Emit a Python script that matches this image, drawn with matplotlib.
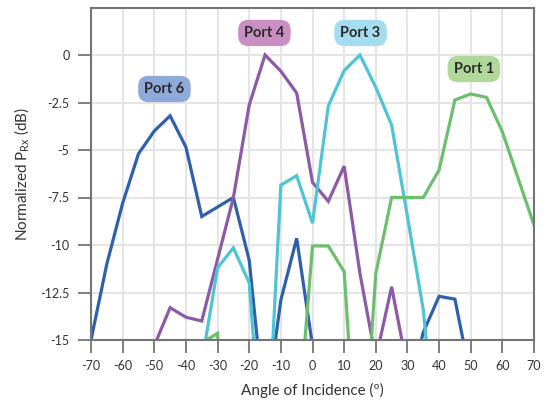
import matplotlib
matplotlib.use("Agg")
import matplotlib.pyplot as plt

plt.rcParams["font.family"] = ["Lato", "DejaVu Sans"]
plt.rcParams["mathtext.fontset"] = "custom"
plt.rcParams["mathtext.rm"] = "Lato"

# angle of incidence, degrees
angles = list(range(-70, 75, 5))

# normalized received power (dB); values below -15 fall off the plot
port6 = [-15.0, -11.0, -7.8, -5.2, -4.0, -3.2, -4.85, -8.5, -8.0, -7.5, -10.8, -19.0, -12.9,
         -9.65, -15.3, -30, -30, -30, -30, -30, -18.0, -14.6, -12.7, -12.85, -17.0, -30, -30, -30, -30]
port4 = [-30, -30, -30, -25.0, -15.3, -13.3, -13.8, -14.0, -10.75, -7.5, -2.63, 0.0, -0.85,
         -2.0, -6.7, -7.7, -5.85, -11.5, -16.0, -12.2, -16.5, -30, -30, -30, -30, -30, -30, -30, -30]
port3 = [-30, -30, -30, -30, -30, -30, -30, -16.2, -11.2, -10.15, -12.0, -23.0, -6.85,
         -6.35, -8.85, -2.68, -0.82, 0.0, -1.7, -3.68, -8.5, -13.4, -22.0, -30, -30, -30, -30, -30, -30]
port1 = [-30, -30, -30, -30, -30, -30, -30, -15.15, -14.65, -30, -30, -30, -30,
         -20.4, -10.05, -10.05, -11.4, -24.0, -11.5, -7.5, -7.5, -7.5, -6.05, -2.37, -2.05, -2.23, -4.04, -6.5, -8.95]

names = ["Port 6", "Port 4", "Port 3", "Port 1"]
line_colors = ["#2f5fad", "#8d5aa8", "#4fc4d4", "#6bbf6f"]
label_colors = ["#8eaad8", "#c98fc0", "#a6dcef", "#b0d89b"]
label_pos = [(-46.8, -1.79), (-15.2, 1.16), (15.2, 1.16), (51.0, -0.74)]

xticks = list(range(-70, 80, 10))
yticks = [0, -2.5, -5, -7.5, -10, -12.5, -15]
ytick_labels = ["0", "-2.5", "-5", "-7.5", "-10", "-12.5", "-15"]

fig = plt.figure(figsize=(5.48, 4.09), dpi=100)
ax = fig.add_axes([91 / 548, 1 - 340 / 409, (534 - 91) / 548, (340 - 7.5) / 409])

for series, color in zip([port6, port4, port3, port1], line_colors):
    ax.plot(angles, series, color=color, lw=2.3, solid_joinstyle="miter", zorder=2)

for name, (lx, ly), fc in zip(names, label_pos, label_colors):
    ax.text(lx, ly, name, ha="center", va="center", fontsize=10.5, fontweight="bold",
            color="#2a2a2a", zorder=5,
            bbox=dict(boxstyle="round,pad=0.42,rounding_size=0.7", fc=fc, ec="none"))

ax.set_xlim(-70, 70)
ax.set_ylim(-15, 2.5)
ax.set_xticks(xticks)
ax.set_xticklabels([str(t) for t in xticks])
ax.set_yticks(yticks)
ax.set_yticklabels(ytick_labels)
ax.set_yticks([2.5], minor=True)

ax.grid(True, which="both", color="#e5e5e5", lw=1.5, zorder=0)
ax.set_axisbelow(True)
for s in ax.spines.values():
    s.set_color("#747474")
    s.set_linewidth(1.5)
    s.set_zorder(3)

ax.tick_params(axis="both", direction="out", length=9.5, width=1.3, color="#747474",
               labelsize=9, labelcolor="#333333", pad=5)
ax.tick_params(axis="y", pad=6)
ax.tick_params(axis="y", which="minor", length=0)

ax.set_xlabel("Angle of Incidence (º)", fontsize=11, color="#333333", labelpad=8)
ax.set_ylabel(r"Normalized P$_{\mathrm{Rx}}$ (dB)", fontsize=11, color="#333333", labelpad=6)

fig.savefig("out.png", dpi=100, facecolor="white")
